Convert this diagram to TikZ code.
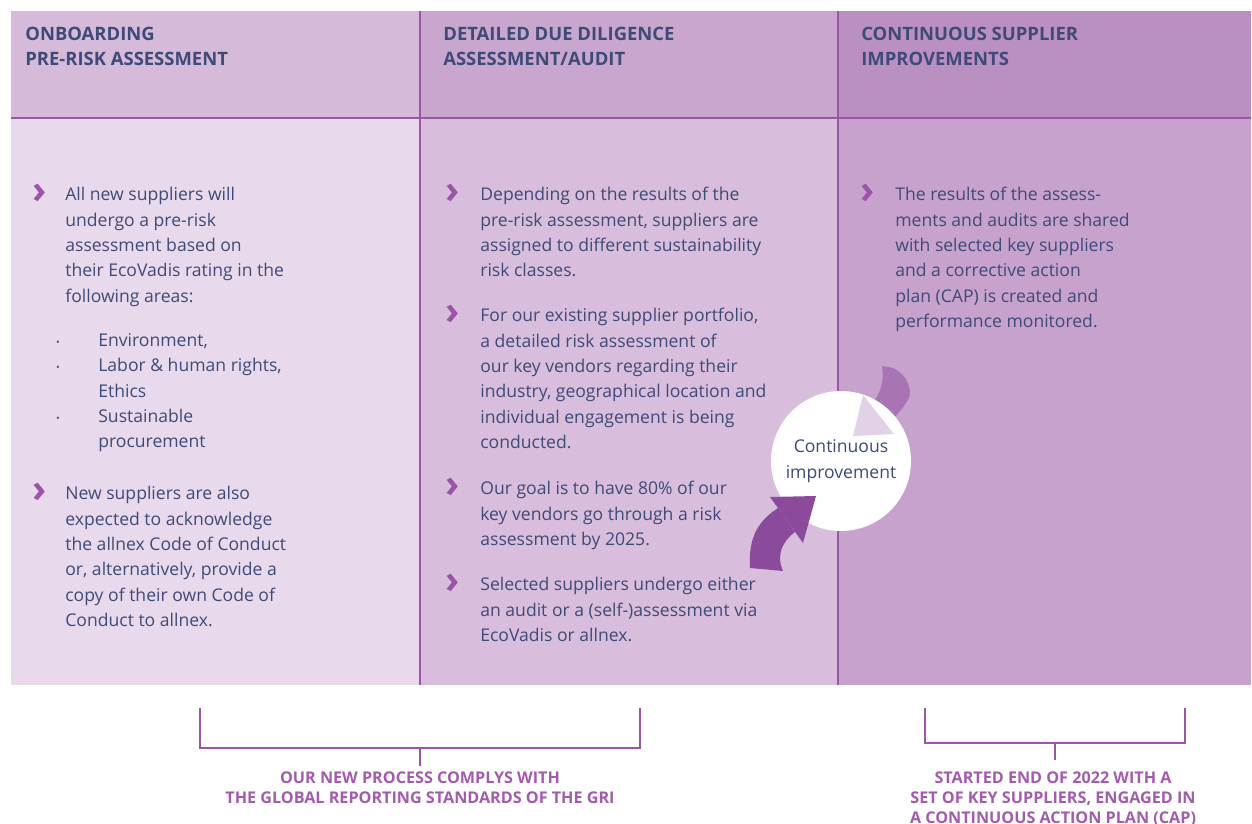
\documentclass[tikz,border=0pt]{standalone}
\usepackage{fontspec}
\setmainfont{Open Sans}
\usepackage{xcolor}
\usetikzlibrary{positioning}
\definecolor{navy}{HTML}{3E4A78}
\definecolor{violet}{HTML}{9A55A6}
\definecolor{label}{HTML}{A35BAD}
\definecolor{headA}{HTML}{D5BAD9}
\definecolor{bodyA}{HTML}{E8DAEC}
\definecolor{headB}{HTML}{C8A6CE}
\definecolor{bodyB}{HTML}{D8BEDC}
\definecolor{headC}{HTML}{BA8FC2}
\definecolor{bodyC}{HTML}{C7A2CD}
\definecolor{arrowdark}{HTML}{8C4A9C}
\definecolor{arrowmid}{HTML}{A874B3}
\definecolor{arrowlight}{HTML}{E3D1E7}
\tikzstyle{head} = [anchor=north west, inner sep=0, align=left, text=navy, font=\fontsize{10.5}{14.3}\selectfont\bfseries]
\tikzstyle{para} = [anchor=north west, inner sep=0, align=left, text=navy, font=\fontsize{10}{14.45}\selectfont]
\tikzstyle{chev} = [inner sep=0, text=violet, font=\fontsize{22}{22}\selectfont\bfseries]
\tikzstyle{dot} = [inner sep=0, text=navy, font=\fontsize{10}{10}\selectfont]
\tikzstyle{note} = [anchor=north, inner sep=0, align=center, text=label, font=\fontsize{9.2}{11.4}\selectfont\bfseries]
\tikzstyle{bracket} = [draw=violet, line width=0.7pt]

\begin{document}
\begin{tikzpicture}[x=0.02cm, y=-0.02cm]
  \useasboundingbox (0,0) rectangle (1252,824);
  % columns
  \fill[headA] (11,11) rectangle (420,118);
  \fill[bodyA] (11,118) rectangle (420,685);
  \fill[headB] (420,11) rectangle (838,118);
  \fill[bodyB] (420,118) rectangle (838,685);
  \fill[headC] (838,11) rectangle (1251,118);
  \fill[bodyC] (838,118) rectangle (1251,685);
  \draw[violet, line width=0.6pt] (11,118) -- (1251,118);
  \draw[violet, line width=0.6pt] (420,11) -- (420,685);
  \draw[violet, line width=1.1pt] (838,11) -- (838,685);

  % headers
  \node[head] (h1) at (25,27) {ONBOARDING\\PRE-RISK ASSESSMENT};
  \node[head] (h2) at (443,27) {DETAILED DUE DILIGENCE\\ASSESSMENT/AUDIT};
  \node[head] (h3) at (861,27) {CONTINUOUS SUPPLIER\\IMPROVEMENTS};

  % first column
  \node[chev] (c11) at (40,194) {›};
  \node[para] (p11) at (65,187) {All new suppliers will\\undergo a pre-risk\\assessment based on\\their EcoVadis rating in the\\following areas:};
  \node[dot] (d1) at (58,345) {·};
  \node[dot] (d2) at (58,370) {·};
  \node[dot] (d3) at (58,421) {·};
  \node[para] (p12) at (98,333) {Environment,\\Labor \& human rights,\\Ethics\\Sustainable\\procurement};
  \node[chev] (c12) at (40,493) {›};
  \node[para] (p13) at (65,486) {New suppliers are also\\expected to acknowledge\\the allnex Code of Conduct\\or, alternatively, provide a\\copy of their own Code of\\Conduct to allnex.};

  % second column
  \node[chev] (c21) at (453,194) {›};
  \node[para] (p21) at (480,187) {Depending on the results of the\\pre-risk assessment, suppliers are\\assigned to different sustainability\\risk classes.};
  \node[chev] (c22) at (453,315) {›};
  \node[para] (p22) at (480,308) {For our existing supplier portfolio,\\a detailed risk assessment of\\our key vendors regarding their\\industry, geographical location and\\individual engagement is being\\conducted.};
  \node[chev] (c23) at (453,488) {›};
  \node[para] (p23) at (480,481) {Our goal is to have 80\% of our\\key vendors go through a risk\\assessment by 2025.};
  \node[chev] (c24) at (453,584) {›};
  \node[para] (p24) at (480,577) {Selected suppliers undergo either\\an audit or a (self-)assessment via\\EcoVadis or allnex.};

  % third column
  \node[chev] (c31) at (868,194) {›};
  \node[para] (p31) at (895,187) {The results of the assess-\\ments and audits are shared\\with selected key suppliers\\and a corrective action\\plan (CAP) is created and\\performance monitored.};

  % improvement circle and arrows
  \fill[arrowmid] (871,405) .. controls (882,392) and (884,380) .. (882,366)
    -- (893,368) .. controls (908,375) and (912,390) .. (909,398)
    .. controls (902,410) and (895,418) .. (886,424) -- cycle;
  \node[circle, fill=white, minimum size=2.8cm, inner sep=0, align=center, text=navy,
    font=\fontsize{10}{14.45}\selectfont] (loop) at (841,461) {Continuous\\improvement};
  \fill[arrowlight] (853,436) -- (863,395) -- (894,434) -- cycle;
  \fill[arrowdark] (778,508) .. controls (760,520) and (748,535) .. (750,568)
    -- (783,571) .. controls (776,555) and (782,542) .. (795,532) -- cycle;
  \fill[arrowdark] (816,496) -- (770,497) -- (803,543) -- cycle;

  % brackets
  \coordinate (b1l) at (200,708);
  \coordinate (b1r) at (640,708);
  \coordinate (b1m) at (420,748);
  \coordinate (b1t) at (420,766);
  \draw[bracket] (b1l) |- (b1m) -| (b1r);
  \draw[bracket] (b1m) -- (b1t);
  \node[note] (n1) at (420,771) {OUR NEW PROCESS COMPLYS WITH\\THE GLOBAL REPORTING STANDARDS OF THE GRI};

  \coordinate (b2l) at (925,708);
  \coordinate (b2r) at (1185,708);
  \coordinate (b2m) at (1055,743);
  \coordinate (b2t) at (1055,760);
  \draw[bracket] (b2l) |- (b2m) -| (b2r);
  \draw[bracket] (b2m) -- (b2t);
  \node[note] (n2) at (1053,771) {STARTED END OF 2022 WITH A\\SET OF KEY SUPPLIERS, ENGAGED IN\\A CONTINUOUS ACTION PLAN (CAP)};
\end{tikzpicture}
\end{document}
